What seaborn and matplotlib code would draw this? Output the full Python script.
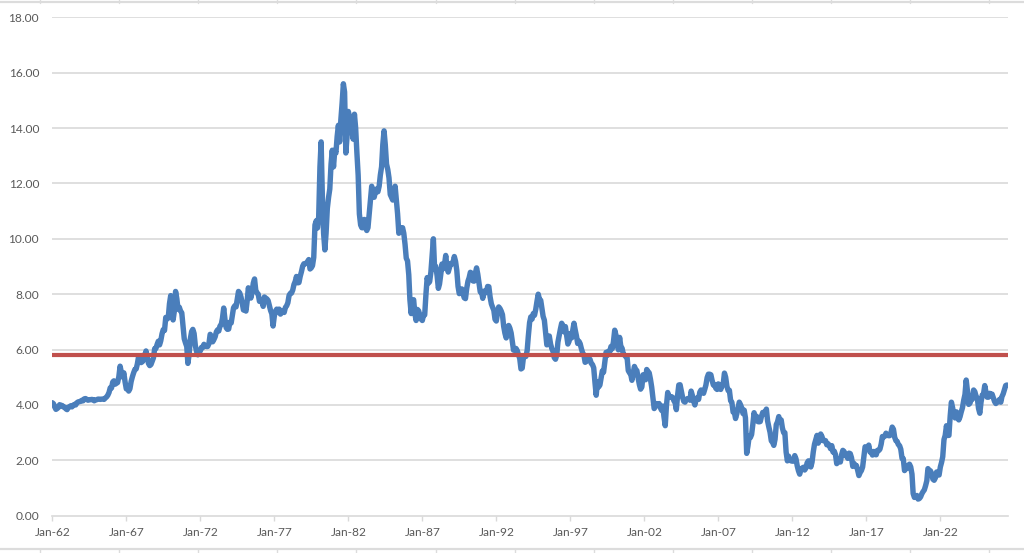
import numpy as np
import pandas as pd
import matplotlib
matplotlib.use("Agg")
import matplotlib.pyplot as plt
import matplotlib.dates as mdates
from matplotlib.lines import Line2D
import seaborn as sns

# Monthly 10-year yield readings (%), Jan 1962 onward
yields_1960s = [
    4.08, 4.04, 3.93, 3.84, 3.87, 3.91, 4.01, 3.98, 3.98, 3.93, 3.92, 3.86,
    3.83, 3.92, 3.93, 3.97, 3.93, 3.99, 4.02, 4.00, 4.08, 4.11, 4.12, 4.13,
    4.17, 4.15, 4.22, 4.23, 4.20, 4.17, 4.19, 4.19, 4.20, 4.19, 4.15, 4.18,
    4.19, 4.21, 4.21, 4.20, 4.21, 4.21, 4.20, 4.25, 4.29, 4.35, 4.45, 4.62,
    4.61, 4.83, 4.87, 4.75, 4.78, 4.81, 5.02, 5.40, 5.18, 5.01, 5.16, 4.84,
    4.58, 4.63, 4.50, 4.59, 4.85, 5.02, 5.16, 5.28, 5.30, 5.48, 5.75, 5.70,
    5.53, 5.56, 5.80, 5.64, 5.95, 5.72, 5.50, 5.42, 5.46, 5.58, 5.70, 6.03,
    6.04, 6.19, 6.30, 6.17, 6.32, 6.57, 6.72, 6.69, 7.16, 7.10, 7.14, 7.65,
]
yields_1970s = [
    7.95, 7.24, 7.07, 7.39, 8.10, 7.84, 7.46, 7.53, 7.39, 7.33, 6.84, 6.39,
    6.24, 6.11, 5.50, 5.83, 6.39, 6.65, 6.73, 6.58, 6.14, 5.93, 5.81, 5.93,
    5.95, 6.08, 6.07, 6.19, 6.13, 6.11, 6.11, 6.21, 6.55, 6.48, 6.28, 6.36,
    6.46, 6.64, 6.71, 6.67, 6.85, 6.90, 7.13, 7.50, 7.09, 6.79, 6.73, 6.74,
    6.99, 6.96, 7.21, 7.51, 7.58, 7.54, 7.81, 8.10, 8.04, 7.90, 7.68, 7.43,
    7.50, 7.39, 7.73, 8.23, 8.06, 7.86, 8.06, 8.40, 8.55, 8.14, 8.05, 8.00,
    7.74, 7.79, 7.73, 7.56, 7.90, 7.86, 7.83, 7.77, 7.59, 7.41, 7.29, 6.85,
    7.21, 7.39, 7.46, 7.37, 7.46, 7.28, 7.33, 7.40, 7.34, 7.52, 7.58, 7.69,
    7.96, 8.03, 8.04, 8.15, 8.35, 8.46, 8.64, 8.41, 8.42, 8.64, 8.81, 9.01,
    9.10, 9.10, 9.12, 9.18, 9.25, 8.91, 8.95, 9.03, 9.33, 10.50, 10.65, 10.39,
]
yields_1980s = [
    10.80, 12.60, 13.50, 11.50, 10.20, 9.60, 10.20, 11.10, 11.50, 11.80, 12.70, 13.20,
    12.60, 13.20, 13.10, 13.70, 14.10, 13.50, 14.30, 14.90, 15.60, 15.30, 13.10, 13.70,
    14.60, 14.40, 13.90, 13.90, 13.60, 14.50, 14.00, 13.10, 12.30, 10.90, 10.50, 10.40,
    10.40, 10.70, 10.50, 10.30, 10.40, 10.90, 11.40, 11.90, 11.60, 11.50, 11.70, 11.80,
    11.70, 11.90, 12.30, 12.60, 13.40, 13.90, 13.40, 12.70, 12.50, 12.20, 11.60, 11.50,
    11.40, 11.50, 11.90, 11.40, 10.90, 10.20, 10.30, 10.40, 10.40, 10.20, 9.80, 9.30,
    9.20, 8.70, 7.80, 7.30, 7.70, 7.80, 7.30, 7.05, 7.45, 7.40, 7.25, 7.10,
    7.05, 7.25, 7.25, 8.00, 8.60, 8.40, 8.45, 8.80, 9.40, 10.00, 8.90, 9.00,
    8.67, 8.21, 8.37, 8.72, 9.09, 8.92, 9.06, 9.40, 8.98, 8.80, 8.96, 9.11,
    9.09, 9.17, 9.36, 9.18, 8.86, 8.28, 8.02, 8.11, 8.19, 8.01, 7.87, 7.84,
]
yields_1990s = [
    8.21, 8.47, 8.59, 8.79, 8.76, 8.48, 8.47, 8.75, 8.95, 8.72, 8.39, 8.08,
    8.09, 7.85, 8.11, 8.04, 8.07, 8.28, 8.27, 7.90, 7.65, 7.53, 7.42, 7.09,
    7.03, 7.34, 7.54, 7.48, 7.39, 7.26, 6.84, 6.59, 6.42, 6.59, 6.87, 6.77,
    6.60, 6.26, 5.98, 5.97, 6.04, 5.96, 5.81, 5.68, 5.30, 5.33, 5.72, 5.77,
    5.75, 5.97, 6.48, 6.97, 7.18, 7.10, 7.30, 7.24, 7.46, 7.74, 8.00, 7.81,
    7.78, 7.47, 7.20, 7.06, 6.63, 6.17, 6.28, 6.49, 6.20, 6.04, 5.93, 5.71,
    5.65, 5.81, 6.27, 6.51, 6.74, 6.95, 6.87, 6.64, 6.83, 6.53, 6.20, 6.30,
    6.58, 6.42, 6.69, 6.95, 6.71, 6.49, 6.22, 6.30, 6.21, 6.03, 5.88, 5.81,
    5.54, 5.57, 5.65, 5.64, 5.65, 5.50, 5.46, 5.34, 4.81, 4.35, 4.83, 4.65,
    4.72, 5.00, 5.23, 5.18, 5.54, 5.90, 5.79, 5.94, 5.92, 6.11, 6.03, 6.28,
]
yields_2000s = [
    6.70, 6.52, 6.26, 5.99, 6.44, 6.10, 6.05, 5.83, 5.80, 5.74, 5.72, 5.24,
    5.16, 5.10, 4.89, 5.14, 5.39, 5.28, 5.24, 4.97, 4.73, 4.57, 4.65, 5.09,
    5.04, 4.91, 5.28, 5.21, 5.16, 4.93, 4.65, 4.26, 3.87, 3.94, 4.05, 4.03,
    4.05, 3.90, 3.81, 3.96, 3.57, 3.25, 3.98, 4.45, 4.27, 4.29, 4.30, 4.27,
    4.15, 4.08, 3.83, 4.35, 4.72, 4.73, 4.50, 4.28, 4.13, 4.10, 4.19, 4.23,
    4.22, 4.17, 4.50, 4.34, 4.14, 4.00, 4.18, 4.26, 4.20, 4.46, 4.54, 4.47,
    4.42, 4.57, 4.72, 4.99, 5.11, 5.11, 5.09, 4.88, 4.72, 4.73, 4.60, 4.56,
    4.76, 4.72, 4.56, 4.69, 4.75, 5.15, 5.00, 4.67, 4.52, 4.53, 4.15, 4.10,
    3.74, 3.74, 3.51, 3.68, 3.88, 4.10, 4.01, 3.89, 3.69, 3.81, 3.53, 2.25,
    2.52, 2.87, 2.82, 2.93, 3.29, 3.72, 3.56, 3.59, 3.40, 3.39, 3.40, 3.59,
]
yields_2010s = [
    3.73, 3.69, 3.73, 3.85, 3.42, 3.20, 3.01, 2.70, 2.65, 2.54, 2.76, 3.29,
    3.39, 3.58, 3.41, 3.46, 3.17, 3.00, 3.00, 2.30, 1.98, 2.15, 2.01, 1.98,
    1.97, 1.97, 2.17, 2.05, 1.80, 1.62, 1.50, 1.68, 1.72, 1.75, 1.65, 1.72,
    1.91, 1.98, 1.96, 1.76, 1.93, 2.30, 2.58, 2.74, 2.90, 2.62, 2.72, 2.95,
    2.86, 2.71, 2.72, 2.71, 2.56, 2.60, 2.54, 2.42, 2.53, 2.30, 2.33, 2.21,
    1.88, 1.98, 2.04, 1.94, 2.20, 2.36, 2.32, 2.17, 2.17, 2.07, 2.26, 2.24,
    2.09, 1.78, 1.89, 1.81, 1.81, 1.64, 1.45, 1.56, 1.63, 1.76, 2.14, 2.49,
    2.43, 2.42, 2.55, 2.30, 2.30, 2.19, 2.32, 2.21, 2.20, 2.36, 2.35, 2.40,
    2.58, 2.86, 2.84, 2.87, 2.98, 2.91, 2.89, 2.89, 3.00, 3.20, 3.12, 2.83,
    2.71, 2.68, 2.57, 2.53, 2.40, 2.07, 2.06, 1.63, 1.70, 1.71, 1.81, 1.86,
]
yields_2020s = [
    1.76, 1.50, 0.80, 0.66, 0.67, 0.73, 0.60, 0.62, 0.68, 0.79, 0.87, 0.93,
    1.08, 1.26, 1.70, 1.64, 1.62, 1.52, 1.32, 1.28, 1.37, 1.58, 1.56, 1.47,
    1.76, 1.93, 2.13, 2.75, 2.90, 3.25, 2.90, 2.90, 3.60, 4.10, 3.89, 3.62,
    3.53, 3.75, 3.66, 3.46, 3.57, 3.75, 3.90, 4.17, 4.38, 4.90, 4.50, 4.02,
    4.06, 4.21, 4.21, 4.54, 4.48, 4.31, 4.25, 3.87, 3.70, 4.10, 4.36, 4.39,
    4.70, 4.45, 4.28, 4.28, 4.42, 4.38, 4.39, 4.26, 4.12, 4.05, 4.09, 4.14,
    4.20, 4.10, 4.30, 4.40, 4.55, 4.70, 4.72,
]
average_level = 5.80

y_tick_values = [0, 2, 4, 6, 8, 10, 12, 14, 16, 18]
x_tick_years = [1962, 1967, 1972, 1977, 1982, 1987, 1992, 1997, 2002, 2007, 2012, 2017, 2022]
x_tick_labels = ["Jan-62", "Jan-67", "Jan-72", "Jan-77", "Jan-82", "Jan-87", "Jan-92",
                 "Jan-97", "Jan-02", "Jan-07", "Jan-12", "Jan-17", "Jan-22"]

values = (yields_1960s + yields_1970s + yields_1980s + yields_1990s
          + yields_2000s + yields_2010s + yields_2020s)
dates = pd.date_range("1962-01-01", periods=len(values), freq="MS")
df = pd.DataFrame({"date": dates, "yield": values})

sns.set_theme(style="white")
plt.rcParams["font.family"] = ["Lato", "DejaVu Sans"]

fig = plt.figure(figsize=(10.24, 5.53), dpi=100)
ax = fig.add_axes([52.3 / 1024, 1 - 515.7 / 553, (1008.3 - 52.3) / 1024, (515.7 - 17.3) / 553])

grid_c = "#d9d9d9"
for v in y_tick_values[1:]:
    ax.axhline(v, color=grid_c, lw=1.2, zorder=0)

sns.lineplot(data=df, x="date", y="yield", ax=ax, color="#4a7ebb", lw=3.9,
             solid_joinstyle="round", solid_capstyle="round", zorder=3)
ax.axhline(average_level, color="#c0504d", lw=3.0, zorder=4)

ax.set_xlim(pd.Timestamp("1962-01-01"), pd.Timestamp("2026-08-05"))
ax.set_ylim(0, 18)
ax.set_yticks(y_tick_values)
ax.set_yticklabels([f"{v:.2f}" for v in y_tick_values])
ax.set_xticks([pd.Timestamp(f"{y}-01-01") for y in x_tick_years])
ax.set_xticklabels(x_tick_labels)
ax.set_xlabel("")
ax.set_ylabel("")

for s in ["top", "right", "left"]:
    ax.spines[s].set_visible(False)
ax.spines["bottom"].set_color(grid_c)
ax.spines["bottom"].set_linewidth(1.2)
ax.tick_params(axis="y", length=0, pad=9.5, labelsize=8.6, labelcolor="#595959")
ax.tick_params(axis="x", length=3.5, width=1, color=grid_c, direction="out",
               pad=4.5, labelsize=8.6, labelcolor="#595959", bottom=True)

# spreadsheet cell borders around the chart
border_c = "#dcdcdc"
fig.add_artist(Line2D([0, 1], [1 - 1.5 / 553, 1 - 1.5 / 553], transform=fig.transFigure,
                      color=border_c, lw=1.6))
fig.add_artist(Line2D([0, 1], [1 - 549.3 / 553, 1 - 549.3 / 553], transform=fig.transFigure,
                      color=border_c, lw=1.6))
for k in range(13):
    xp = (40 + 79.1 * k) / 1024
    fig.add_artist(Line2D([xp, xp], [1, 1 - 3 / 553], transform=fig.transFigure,
                          color=border_c, lw=1.0))
    fig.add_artist(Line2D([xp, xp], [1 - 549 / 553, 0], transform=fig.transFigure,
                          color=border_c, lw=1.0))

fig.savefig("out.png", dpi=100, facecolor="white")
